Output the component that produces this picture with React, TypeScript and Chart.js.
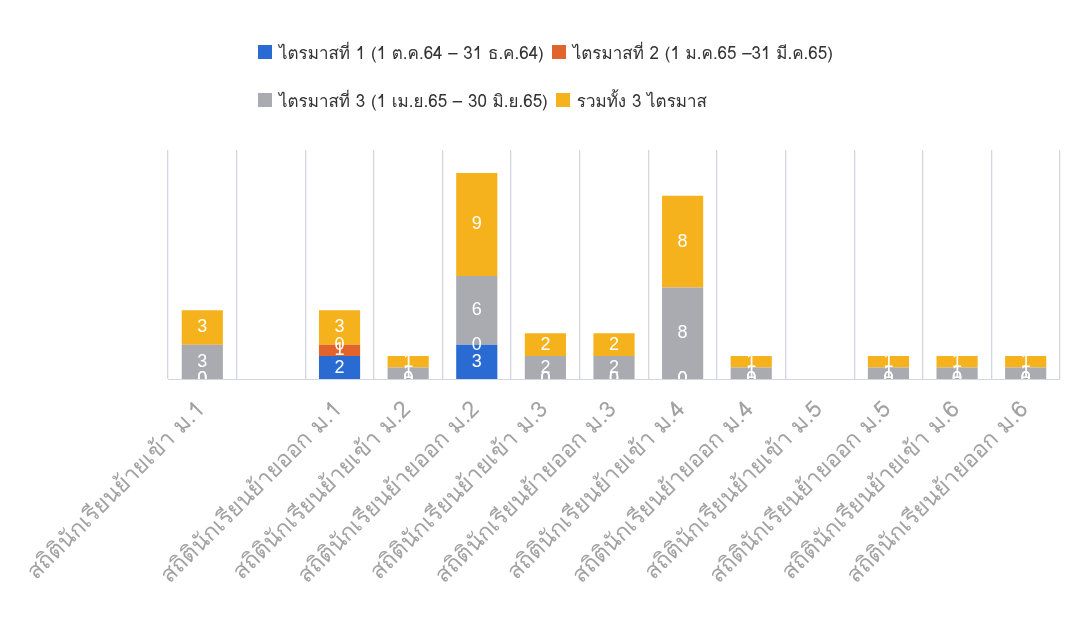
import React, { useEffect, useRef } from "react";
import { Chart, registerables } from "chart.js";

Chart.register(...registerables);

const categories = [
  "สถิตินักเรียนย้ายเข้า ม.1",
  "",
  "สถิตินักเรียนย้ายออก ม.1",
  "สถิตินักเรียนย้ายเข้า ม.2",
  "สถิตินักเรียนย้ายออก ม.2",
  "สถิตินักเรียนย้ายเข้า ม.3",
  "สถิตินักเรียนย้ายออก ม.3",
  "สถิตินักเรียนย้ายเข้า ม.4",
  "สถิตินักเรียนย้ายออก ม.4",
  "สถิตินักเรียนย้ายเข้า ม.5",
  "สถิตินักเรียนย้ายออก ม.5",
  "สถิตินักเรียนย้ายเข้า ม.6",
  "สถิตินักเรียนย้ายออก ม.6",
];

const quarter1 = [0, null, 2, 0, 3, 0, 0, 0, 0, null, 0, 0, 0];
const quarter2 = [0, null, 1, 0, 0, 0, 0, 0, 0, null, 0, 0, 0];
const quarter3 = [3, null, 0, 1, 6, 2, 2, 8, 1, null, 1, 1, 1];
const allQuarters = [3, null, 3, 1, 9, 2, 2, 8, 1, null, 1, 1, 1];

const seriesNames = [
  "ไตรมาสที่ 1 (1 ต.ค.64 – 31 ธ.ค.64)",
  "ไตรมาสที่ 2 (1 ม.ค.65 –31 มี.ค.65)",
  "ไตรมาสที่ 3 (1 เม.ย.65 – 30 มิ.ย.65)",
  "รวมทั้ง 3 ไตรมาส",
];
const seriesColors = ["#2a6bd3", "#e0642c", "#a9abb1", "#f6b21c"];

const thaiFont = "Tahoma, Loma, Garuda, 'Noto Sans Thai Looped', 'Noto Sans', sans-serif";

const valueLabels = {
  id: "valueLabels",
  afterDatasetsDraw(chart: any) {
    const { ctx, chartArea } = chart;
    ctx.save();
    ctx.beginPath();
    ctx.rect(chartArea.left, chartArea.top, chartArea.right - chartArea.left, chartArea.bottom - chartArea.top);
    ctx.clip();
    ctx.font = "18px 'Liberation Sans', 'DejaVu Sans', sans-serif";
    ctx.fillStyle = "#ffffff";
    ctx.textAlign = "center";
    ctx.textBaseline = "middle";
    chart.data.datasets.forEach((ds: any, i: number) => {
      const meta = chart.getDatasetMeta(i);
      meta.data.forEach((el: any, j: number) => {
        const v = ds.data[j];
        if (v === null || v === undefined) return;
        const p = el.getProps(["x", "y", "base"], true);
        ctx.fillText(String(v), p.x, (p.y + p.base) / 2);
      });
    });
    ctx.restore();
  },
};

export default function App() {
  const canvasRef = useRef<HTMLCanvasElement | null>(null);

  useEffect(() => {
    if (!canvasRef.current) return;
    const data = [quarter1, quarter2, quarter3, allQuarters];
    const chart = new Chart(canvasRef.current, {
      type: "bar",
      data: {
        labels: categories,
        datasets: data.map((d, i) => ({
          label: seriesNames[i],
          data: d,
          backgroundColor: seriesColors[i],
          borderWidth: 0,
          barPercentage: 0.6,
          categoryPercentage: 1,
        })),
      },
      options: {
        animation: false,
        responsive: true,
        maintainAspectRatio: false,
        layout: { padding: { left: 160, right: 8, top: 142, bottom: 0 } },
        plugins: {
          legend: { display: false },
          tooltip: { enabled: false },
        },
        scales: {
          x: {
            stacked: true,
            grid: { display: true, offset: true, color: "#d3d7e2", drawTicks: false, lineWidth: 1.3 },
            border: { display: true, color: "#d3d7e2" },
            ticks: {
              maxRotation: 45,
              minRotation: 45,
              autoSkip: false,
              color: "#a2a2a2",
              padding: 18,
              font: { size: 23, family: thaiFont },
            },
            afterFit: (scale: any) => {
              scale.height = 230;
              scale.paddingLeft = 0;
              scale.paddingRight = 0;
            },
          },
          y: {
            stacked: true,
            display: false,
            min: 0,
            max: 20,
          },
        },
      },
      plugins: [valueLabels],
    });
    return () => chart.destroy();
  }, []);

  const legendRows = [
    [0, 1],
    [2, 3],
  ];

  return (
    <div style={{ position: "relative", width: 1060, height: 601, background: "#ffffff" }}>
      <canvas ref={canvasRef} />
      <div style={{ position: "absolute", left: 250, top: 30, fontFamily: thaiFont, fontSize: 17, color: "#333" }}>
        {legendRows.map((row, r) => (
          <div key={r} style={{ display: "flex", alignItems: "center", height: 28, marginBottom: r === 0 ? 20 : 0 }}>
            {row.map((i) => (
              <div key={i} style={{ display: "flex", alignItems: "center", marginRight: 8 }}>
                <span style={{ display: "inline-block", width: 14, height: 14, background: seriesColors[i], marginRight: 7 }} />
                <span>{seriesNames[i]}</span>
              </div>
            ))}
          </div>
        ))}
      </div>
    </div>
  );
}
